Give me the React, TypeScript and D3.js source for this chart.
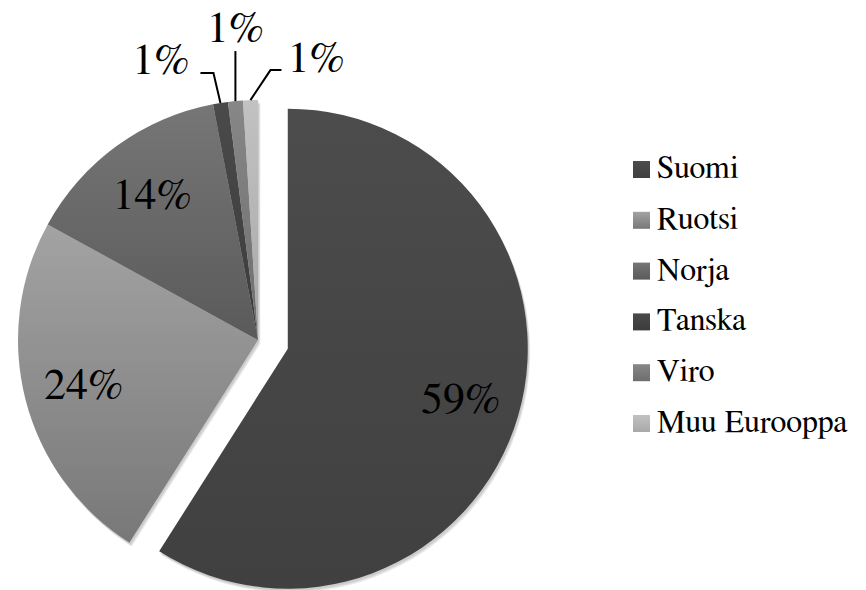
import { useEffect } from "react";
import { arc, pie, PieArcDatum } from "d3";

const categories = ["Suomi", "Ruotsi", "Norja", "Tanska", "Viro", "Muu Eurooppa"];
const shares = [59, 24, 14, 1, 1, 1];
const labels = ["59%", "24%", "14%", "1%", "1%", "1%"];
const colorTop = ["#4c4c4c", "#a3a3a3", "#767676", "#4a4a4a", "#878787", "#c2c2c2"];
const colorBottom = ["#404040", "#787878", "#5a5a5a", "#3c3c3c", "#6e6e6e", "#a8a8a8"];

type Slice = { name: string; value: number; index: number };

const font = 'FreeSerif, "Liberation Serif", serif';

export default function App() {
  useEffect(() => {
    document.body.style.margin = "0";
  }, []);

  const width = 866;
  const height = 590;
  const cx = 258;
  const cy = 340;
  const radius = 240;
  const explode = 31;

  const slices: Slice[] = categories.map((name, index) => ({ name, value: shares[index], index }));
  const arcs = pie<Slice>()
    .sort(null)
    .value((d) => d.value)(slices);

  const sliceArc = arc<PieArcDatum<Slice>>().innerRadius(0).outerRadius(radius);
  const labelArc = arc<PieArcDatum<Slice>>().innerRadius(180).outerRadius(180);

  const offsetOf = (d: PieArcDatum<Slice>) => {
    if (d.index !== 0) return [0, 0];
    const mid = (d.startAngle + d.endAngle) / 2;
    return [Math.sin(mid) * explode, -Math.cos(mid) * explode];
  };

  // leader layout for the three tiny slices at the top: left, straight up, right
  const leaderSide = [-1, 0, 1];

  const legendX = 633;
  const legendY = 178;
  const legendStep = 50.8;

  // soft shadow faked with a few offset copies
  const shadowSteps = [4, 3, 2];

  return (
    <svg width={width} height={height} style={{ display: "block", background: "#fff" }}>
      <defs>
        {categories.map((_, i) => (
          <linearGradient key={i} id={`g${i}`} x1="0" y1="0" x2="0" y2="1">
            <stop offset="0" stopColor={colorTop[i]} />
            <stop offset="1" stopColor={colorBottom[i]} />
          </linearGradient>
        ))}
      </defs>

      {shadowSteps.map((s) =>
        arcs.map((d) => {
          const [ox, oy] = offsetOf(d);
          return (
            <path
              key={`${s}-${d.data.name}`}
              transform={`translate(${cx + ox + s * 0.6},${cy + oy + s})`}
              d={sliceArc(d) ?? ""}
              fill="#000"
              fillOpacity={0.07}
            />
          );
        })
      )}

      {arcs.map((d) => {
        const [ox, oy] = offsetOf(d);
        return (
          <path
            key={d.data.name}
            transform={`translate(${cx + ox},${cy + oy})`}
            d={sliceArc(d) ?? ""}
            fill={`url(#g${d.index})`}
          />
        );
      })}

      {arcs
        .filter((d) => d.value >= 5)
        .map((d) => {
          const [ox, oy] = offsetOf(d);
          const [lx, ly] = labelArc.centroid(d);
          return (
            <text
              key={d.data.name}
              x={cx + ox + lx}
              y={cy + oy + ly}
              dy="0.33em"
              textAnchor="middle"
              fontSize={44}
              fill="#000"
              style={{ fontFamily: font }}
            >
              {labels[d.index]}
            </text>
          );
        })}

      {arcs
        .filter((d) => d.value < 5)
        .map((d, k) => {
          const side = leaderSide[k];
          const mid = (d.startAngle + d.endAngle) / 2;
          const px = cx + Math.sin(mid) * radius;
          const py = cy - Math.cos(mid) * radius;
          let pts: [number, number][];
          let tx: number;
          let ty: number;
          let anchor: "start" | "middle" | "end";
          if (side < 0) {
            const ex = px - 7;
            const ey = py - 30;
            pts = [[px, py], [ex, ey], [ex - 13, ey]];
            tx = ex - 24;
            ty = ey + 1;
            anchor = "end";
          } else if (side > 0) {
            const ex = px + 20;
            const ey = py - 30;
            pts = [[px, py], [ex, ey], [ex + 11, ey]];
            tx = ex + 17;
            ty = ey + 2;
            anchor = "start";
          } else {
            pts = [[px, py], [px, py - 50]];
            tx = px;
            ty = py - 59;
            anchor = "middle";
          }
          return (
            <g key={d.data.name}>
              <polyline
                points={pts.map((p) => p.join(",")).join(" ")}
                fill="none"
                stroke="#000"
                strokeWidth={2}
              />
              <text x={tx} y={ty} textAnchor={anchor} fontSize={44} fill="#000" style={{ fontFamily: font }}>
                {labels[d.index]}
              </text>
            </g>
          );
        })}

      {categories.map((name, i) => {
        const y = legendY + i * legendStep;
        return (
          <g key={name}>
            <rect x={legendX} y={y - 17} width={17} height={17} fill={`url(#g${i})`} />
            <text x={legendX + 24} y={y} fontSize={32} fill="#000" style={{ fontFamily: font }}>
              {name}
            </text>
          </g>
        );
      })}
    </svg>
  );
}
